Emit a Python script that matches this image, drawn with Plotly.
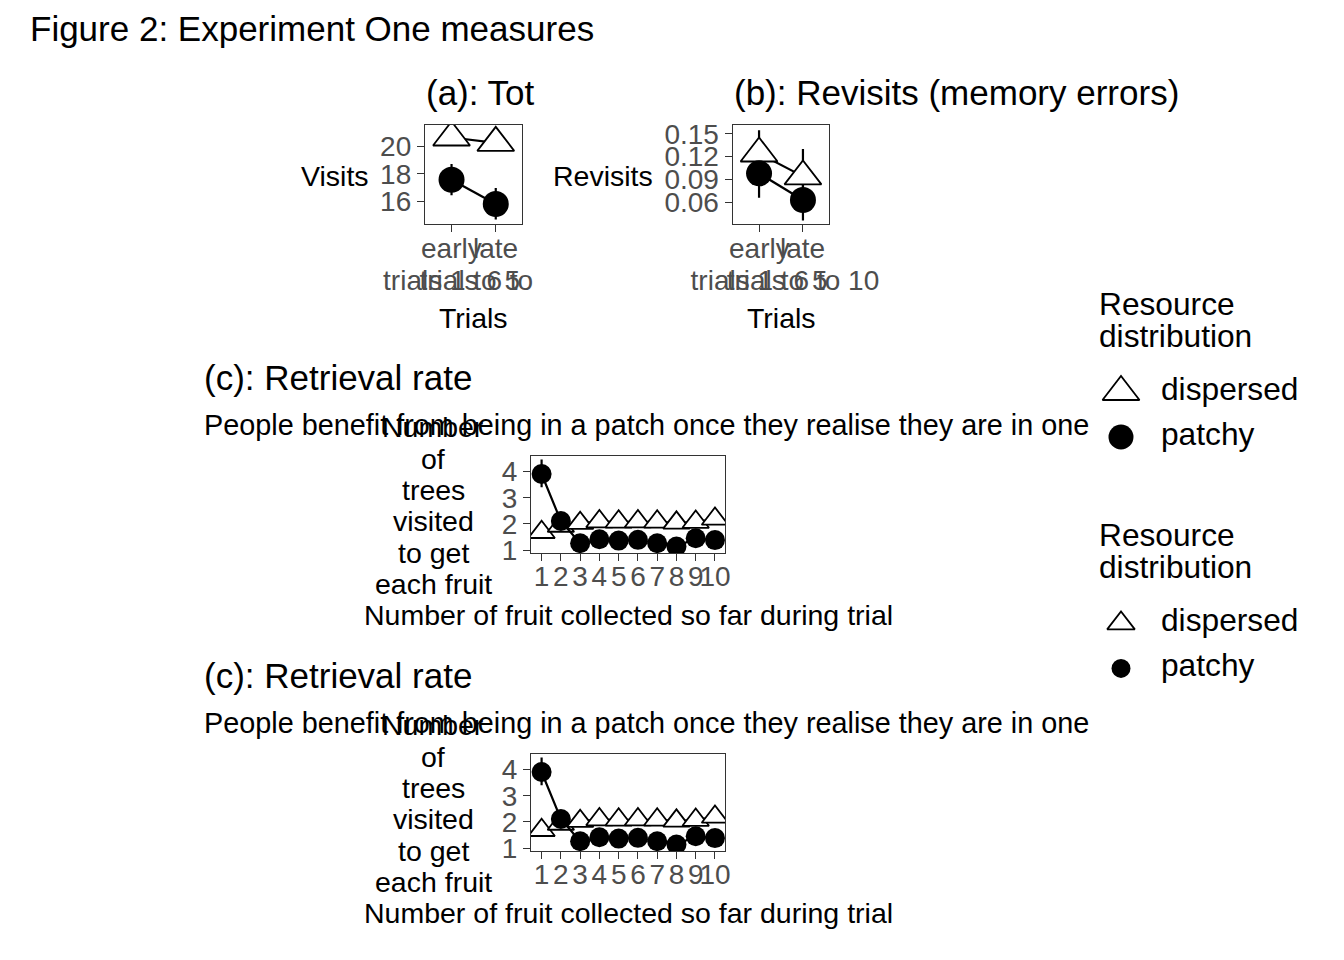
import plotly.graph_objects as go

W, H = 1344, 960
PAGE_PAD = 8  # the html body margin shifts the whole figure by this much

# data
block_labels = ["early", "late"]
block_ranges = ["trials 1 to 5", "trials 6 to 10"]
groups = ["dispersed", "patchy"]

visits_dispersed = [20.64, 20.25]
visits_dispersed_lo = [20.20, 19.80]
visits_dispersed_hi = [21.10, 20.70]
visits_patchy = [17.57, 15.80]
visits_patchy_lo = [16.44, 14.67]
visits_patchy_hi = [18.71, 16.97]

revisits_dispersed = [0.124, 0.094]
revisits_dispersed_lo = [0.094, 0.059]
revisits_dispersed_hi = [0.1545, 0.1298]
revisits_patchy = [0.098, 0.063]
revisits_patchy_lo = [0.066, 0.036]
revisits_patchy_hi = [0.130, 0.091]

fruit_number = [1, 2, 3, 4, 5, 6, 7, 8, 9, 10]
retrieval_dispersed = [1.68, 1.92, 2.03, 2.09, 2.08, 2.09, 2.08, 2.04, 2.07, 2.19]
retrieval_dispersed_lo = [1.50, 1.75, 1.88, 1.94, 1.93, 1.94, 1.93, 1.89, 1.92, 2.04]
retrieval_dispersed_hi = [1.86, 2.09, 2.18, 2.24, 2.23, 2.24, 2.23, 2.19, 2.22, 2.34]
retrieval_patchy = [3.91, 2.11, 1.26, 1.41, 1.36, 1.39, 1.26, 1.13, 1.45, 1.38]
retrieval_patchy_lo = [3.40, 1.90, 1.10, 1.25, 1.20, 1.23, 1.10, 0.98, 1.29, 1.22]
retrieval_patchy_hi = [4.47, 2.32, 1.42, 1.57, 1.52, 1.55, 1.42, 1.28, 1.61, 1.54]

FONT = "Liberation Sans, Arial, Helvetica, sans-serif"


def px(x):
    return (x - PAGE_PAD) / W


def py(y):
    return 1 - (y - PAGE_PAD) / H


fig = go.Figure()


def add_panel(xa, ya, x, disp, disp_lo, disp_hi, patch, patch_lo, patch_hi, tri, dot):
    # error bars first so that all points sit on top of them
    for y, lo, hi in [(disp, disp_lo, disp_hi), (patch, patch_lo, patch_hi)]:
        fig.add_trace(go.Scatter(
            x=x, y=y, xaxis=xa, yaxis=ya, mode="markers",
            marker=dict(size=1, opacity=0),
            error_y=dict(type="data", symmetric=False,
                         array=[h - v for h, v in zip(hi, y)],
                         arrayminus=[v - l for v, l in zip(y, lo)],
                         color="black", thickness=2.2, width=0),
            showlegend=False, hoverinfo="skip"))
    fig.add_trace(go.Scatter(
        x=x, y=disp, xaxis=xa, yaxis=ya, mode="lines+markers", name="dispersed",
        line=dict(color="black", width=2.2),
        marker=dict(symbol="triangle-up", size=tri, color="white",
                    line=dict(color="black", width=1.8)),
        showlegend=False))
    fig.add_trace(go.Scatter(
        x=x, y=patch, xaxis=xa, yaxis=ya, mode="lines+markers", name="patchy",
        line=dict(color="black", width=2.2),
        marker=dict(symbol="circle", size=dot, color="black", line=dict(width=0)),
        showlegend=False))


add_panel("x", "y", block_labels, visits_dispersed, visits_dispersed_lo, visits_dispersed_hi,
          visits_patchy, visits_patchy_lo, visits_patchy_hi, 32, 26)
add_panel("x2", "y2", block_labels, revisits_dispersed, revisits_dispersed_lo, revisits_dispersed_hi,
          revisits_patchy, revisits_patchy_lo, revisits_patchy_hi, 32, 26)
for xa, ya in [("x3", "y3"), ("x4", "y4")]:
    add_panel(xa, ya, fruit_number, retrieval_dispersed, retrieval_dispersed_lo, retrieval_dispersed_hi,
              retrieval_patchy, retrieval_patchy_lo, retrieval_patchy_hi, 23, 20)

# legend keys on hidden axes
for xa, ya, tri, dot in [("x5", "y5", 32, 25), ("x6", "y6", 24, 19)]:
    fig.add_trace(go.Scatter(
        x=[0], y=groups[:1], xaxis=xa, yaxis=ya, mode="markers",
        marker=dict(symbol="triangle-up", size=tri, color="white",
                    line=dict(color="black", width=1.8)),
        showlegend=False, hoverinfo="skip"))
    fig.add_trace(go.Scatter(
        x=[0], y=groups[1:], xaxis=xa, yaxis=ya, mode="markers",
        marker=dict(symbol="circle", size=dot, color="black", line=dict(width=0)),
        showlegend=False, hoverinfo="skip"))

axis_style = dict(showgrid=False, zeroline=False, showline=True, mirror=True,
                  automargin=False,
                  linecolor="#333333", linewidth=1.3, ticks="outside", ticklen=7,
                  tickwidth=1.3, tickcolor="#333333",
                  tickfont=dict(size=28, color="#4D4D4D", family=FONT))

row1_y = [py(224), py(124.7)]
xcat = dict(type="category", categoryorder="array", categoryarray=block_labels,
            range=[-0.6, 1.6], tickvals=block_labels, ticktext=block_ranges,
            tickangle=0, ticklabelstandoff=24)

fig.update_layout(
    xaxis=dict(axis_style, domain=[px(425), px(522.3)], anchor="y", **xcat),
    yaxis=dict(axis_style, domain=row1_y, anchor="x", range=[14.35, 21.57],
               tickvals=[16, 18, 20]),
    xaxis2=dict(axis_style, domain=[px(732.7), px(829.3)], anchor="y2", **xcat),
    yaxis2=dict(axis_style, domain=row1_y, anchor="x2", range=[0.0315, 0.1618],
                tickvals=[0.06, 0.09, 0.12, 0.15], tickformat=".2f"),
)

for i, off in [(3, 0), (4, 298)]:
    fig.update_layout({
        f"xaxis{i}": dict(axis_style, domain=[px(531), px(725)], anchor=f"y{i}",
                          range=[0.45, 10.52], tickvals=fruit_number, tickangle=0,
                          ticklabelstandoff=-9),
        f"yaxis{i}": dict(axis_style, domain=[py(553.3 + off), py(456 + off)], anchor=f"x{i}",
                          range=[0.874, 4.60], tickvals=[1, 2, 3, 4]),
    })

for i, top in [(5, 369.5), (6, 600.9)]:
    fig.update_layout({
        f"xaxis{i}": dict(visible=False, automargin=False, domain=[px(1101), px(1141)],
                          anchor=f"y{i}", range=[-1, 1]),
        f"yaxis{i}": dict(visible=False, automargin=False, domain=[py(top + 90), py(top)],
                          anchor=f"x{i}", type="category", categoryorder="array",
                          categoryarray=groups, range=[1.5, -0.5]),
    })


def label(text, x, y, size, xanchor="left", color="black", xref="paper"):
    fig.add_annotation(text=text, x=px(x) if xref == "paper" else x, y=py(y),
                       xref=xref, yref="paper", xanchor=xanchor, yanchor="middle",
                       showarrow=False, font=dict(size=size, color=color, family=FONT))


label("Figure 2: Experiment One measures", 28, 29, 35)
label("(a): Tot", 424, 92.4, 35)
label("(b): Revisits (memory errors)", 732, 92.4, 35)
label("Visits", 371, 176, 28.5, xanchor="right")
label("Revisits", 655, 176, 28.5, xanchor="right")
label("Trials", 473.7, 318, 28.5, xanchor="center")
label("Trials", 781, 318, 28.5, xanchor="center")
for xr in ["x", "x2"]:
    for b in block_labels:
        label(b, b, 249, 28, xanchor="center", color="#4D4D4D", xref=xr)

ytitle_lines = ["Number", "of", "trees", "visited", "to get", "each fruit"]
for off in [0, 298]:
    label("(c): Retrieval rate", 202, 377.9 + off, 35)
    label("People benefit from being in a patch once they realise they are in one",
          202, 425 + off, 28.8)
    for k, line in enumerate(ytitle_lines):
        label(line, 433, 437 + 31.4 * k - 9.9 + off, 28.5, xanchor="center")
    label("Number of fruit collected so far during trial", 628, 615 + off, 28.5,
          xanchor="center")

for top in [0, 231]:
    label("Resource", 1097, 304 + top, 31.7)
    label("distribution", 1097, 335.7 + top, 31.7)
    label("dispersed", 1159, 389 + top, 31.7)
    label("patchy", 1159, 434 + top, 31.7)

# panel (a) is cut off at its right edge, as in the original layout
fig.add_shape(type="rect", xref="paper", yref="paper", x0=px(537.5), x1=px(600),
              y0=py(305), y1=py(238), fillcolor="white", line=dict(width=0), layer="above")

fig.update_layout(
    width=W, height=H, margin=dict(l=0, r=0, t=0, b=0, autoexpand=False),
    paper_bgcolor="white", plot_bgcolor="white", showlegend=False,
    font=dict(family=FONT, color="black"),
)

fig.write_html("out.html")
